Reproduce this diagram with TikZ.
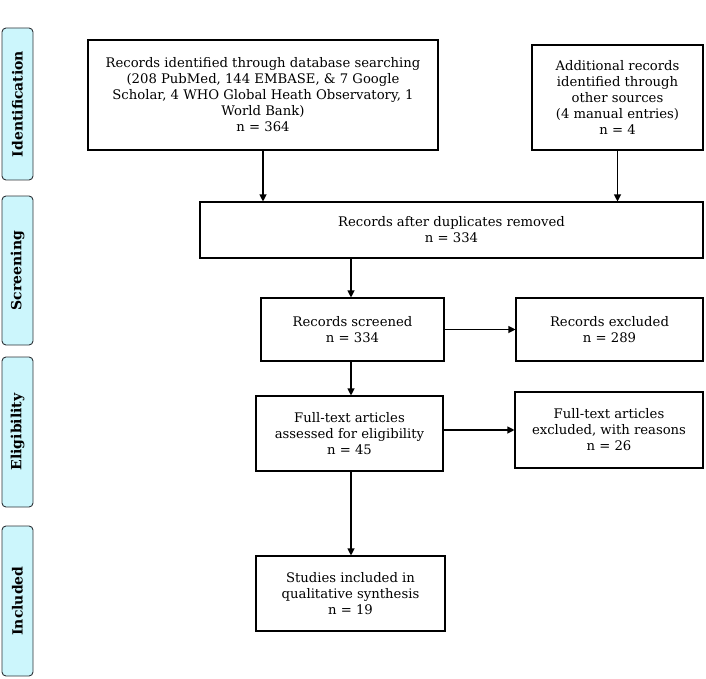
\documentclass[tikz,border=0pt]{standalone}
\usepackage{fontspec}
\setmainfont{DejaVu Serif}
\usetikzlibrary{arrows.meta,calc}
\definecolor{tabfill}{RGB}{204,246,252}
\definecolor{tabline}{RGB}{45,50,55}
\begin{document}
\begin{tikzpicture}[x=1pt,y=-1pt,
  flowbox/.style={draw=black,line width=1.1pt,rectangle,align=center,inner sep=2pt,
    font=\fontsize{13.2}{16}\selectfont},
  phasetab/.style={draw=tabline,fill=tabfill,line width=0.9pt,rounded corners=4pt,rectangle},
  phaselabel/.style={rotate=90,font=\fontsize{14}{16}\selectfont\bfseries},
  flowarrow/.style={line width=1.1pt,-{Triangle[length=7pt,width=7pt]}}]
\useasboundingbox (0,0) rectangle (706,679);
% phase tabs
\node[phasetab,minimum width=31pt,minimum height=152pt] (tid) at (17.5,104) {};
\node[phaselabel] (lid) at (tid.center) {Identification};
\node[phasetab,minimum width=31pt,minimum height=149pt] (tsc) at (17.5,270.5) {};
\node[phaselabel] (lsc) at (tsc.center) {Screening};
\node[phasetab,minimum width=31pt,minimum height=150pt] (tel) at (17.5,432) {};
\node[phaselabel] (lel) at (tel.center) {Eligibility};
\node[phasetab,minimum width=31pt,minimum height=150pt] (tin) at (17.5,601) {};
\node[phaselabel] (lin) at (tin.center) {Included};
% boxes
\node[flowbox,minimum width=350pt,minimum height=110pt] (rec) at (263,95)
  {Records identified through database searching\\(208 PubMed, 144 EMBASE, \& 7 Google\\Scholar, 4 WHO Global Heath Observatory, 1\\World Bank)\\n = 364};
\node[flowbox,minimum width=171pt,minimum height=105pt] (add) at (617.5,97.5)
  {Additional records\\identified through\\other sources\\(4 manual entries)\\n = 4};
\node[flowbox,minimum width=503pt,minimum height=56pt] (dup) at (451.5,230)
  {Records after duplicates removed\\n = 334};
\node[flowbox,minimum width=183pt,minimum height=63pt] (scr) at (352.5,329.5)
  {Records screened\\n = 334};
\node[flowbox,minimum width=187pt,minimum height=63pt] (exc) at (609.5,329.5)
  {Records excluded\\n = 289};
\node[flowbox,minimum width=187pt,minimum height=75pt] (full) at (349.5,433.5)
  {Full-text articles\\assessed for eligibility\\n = 45};
\node[flowbox,minimum width=188pt,minimum height=76pt] (fexc) at (609,430)
  {Full-text articles\\excluded, with reasons\\n = 26};
\node[flowbox,minimum width=189pt,minimum height=75pt] (stud) at (350.5,593.5)
  {Studies included in\\qualitative synthesis\\n = 19};
% connector anchors
\coordinate (a1) at (351,258);
\coordinate (a2) at (351,361);
% connectors
\draw[flowarrow] (rec.south) -- (rec.south |- dup.north);
\draw[flowarrow] (add.south) -- (add.south |- dup.north);
\draw[flowarrow] (a1 |- dup.south) -- (a1 |- scr.north);
\draw[flowarrow] (scr.east) -- (scr.east -| exc.west);
\draw[flowarrow] (a2 |- scr.south) -- (a2 |- full.north);
\draw[flowarrow] (full.east |- fexc.west) -- (fexc.west);
\draw[flowarrow] (a2 |- full.south) -- (a2 |- stud.north);
\end{tikzpicture}
\end{document}
